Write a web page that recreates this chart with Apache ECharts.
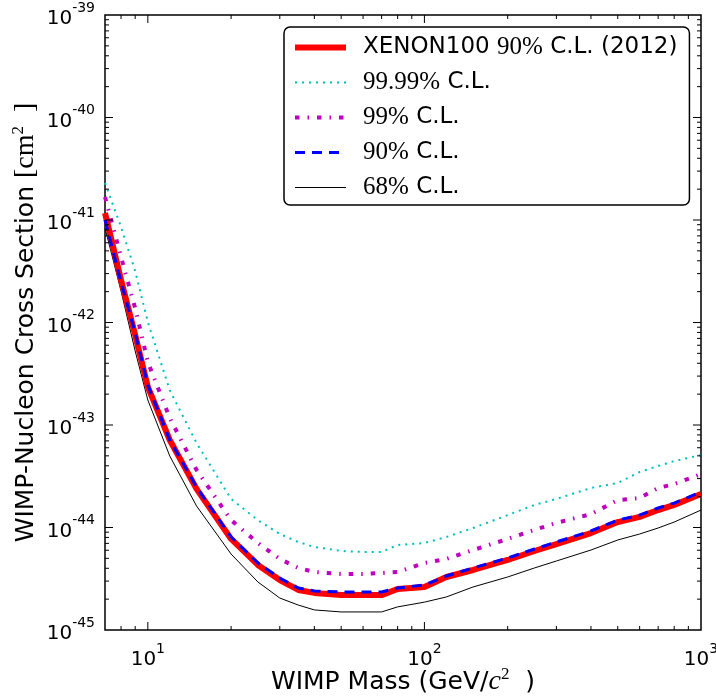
<!DOCTYPE html>
<html>
<head>
<meta charset="utf-8">
<script src="https://cdn.jsdelivr.net/npm/echarts@6/dist/echarts.min.js"></script>
<style>
  html, body { margin: 0; padding: 0; background: #fff; }
  #chart { width: 716px; height: 698px; }
</style>
</head>
<body>
<div id="chart"></div>
<script>
// WIMP mass grid (GeV/c^2)
var masses = [7, 8, 9, 10, 12, 15, 20, 25, 30, 35, 40, 50, 60, 70, 80, 100, 120, 150, 200, 250, 300, 400, 500, 600, 700, 800, 1000];

// cross sections (cm^2)
var xenon2012 = [1.17e-41, 2.60e-42, 7.55e-43, 2.35e-43, 7.14e-44, 2.38e-44, 7.73e-45, 4.31e-45, 3.07e-45, 2.46e-45, 2.30e-45, 2.19e-45, 2.19e-45, 2.19e-45, 2.51e-45, 2.63e-45, 3.29e-45, 3.85e-45, 4.82e-45, 5.90e-45, 6.90e-45, 8.83e-45, 1.13e-44, 1.27e-44, 1.48e-44, 1.66e-44, 2.12e-44];
var cl9999 = [2.30e-41, 8.55e-42, 3.18e-42, 1.01e-42, 2.19e-43, 6.67e-44, 1.90e-44, 1.18e-44, 8.64e-45, 7.22e-45, 6.46e-45, 5.90e-45, 5.77e-45, 5.77e-45, 6.75e-45, 7.06e-45, 8.07e-45, 9.89e-45, 1.32e-44, 1.66e-44, 1.90e-44, 2.43e-44, 2.72e-44, 3.48e-44, 3.98e-44, 4.45e-44, 5.09e-44];
var cl99 = [1.68e-41, 4.36e-42, 1.38e-42, 4.12e-43, 1.17e-43, 3.64e-44, 1.18e-44, 7.06e-45, 4.93e-45, 4.03e-45, 3.68e-45, 3.52e-45, 3.52e-45, 3.60e-45, 3.68e-45, 4.51e-45, 4.93e-45, 6.03e-45, 7.73e-45, 9.46e-45, 1.11e-44, 1.35e-44, 1.85e-44, 1.94e-44, 2.43e-44, 2.65e-44, 3.32e-44];
var cl90 = [1.00e-41, 2.48e-42, 7.91e-43, 2.45e-43, 7.14e-44, 2.48e-44, 8.07e-45, 4.51e-45, 3.21e-45, 2.57e-45, 2.40e-45, 2.35e-45, 2.35e-45, 2.35e-45, 2.57e-45, 2.75e-45, 3.36e-45, 4.03e-45, 5.04e-45, 6.17e-45, 7.22e-45, 9.25e-45, 1.18e-44, 1.32e-44, 1.55e-44, 1.73e-44, 2.22e-44];
var cl68 = [8.35e-42, 2.03e-42, 5.27e-43, 1.75e-43, 4.99e-44, 1.62e-44, 5.51e-45, 2.94e-45, 2.05e-45, 1.75e-45, 1.57e-45, 1.50e-45, 1.50e-45, 1.50e-45, 1.68e-45, 1.87e-45, 2.10e-45, 2.63e-45, 3.29e-45, 4.03e-45, 4.71e-45, 6.03e-45, 7.55e-45, 8.64e-45, 9.89e-45, 1.13e-44, 1.48e-44];

var seriesNames = ['XENON100 90% C.L. (2012)', '99.99% C.L.', '99% C.L.', '90% C.L.', '68% C.L.'];
var legendRich = {
  'XENON100 90% C.L. (2012)': 'XENON100 {m|90%} C.L. (2012)',
  '99.99% C.L.': '{m|99.99%} C.L.',
  '99% C.L.': '{m|99%} C.L.',
  '90% C.L.': '{m|90%} C.L.',
  '68% C.L.': '{m|68%} C.L.'
};

// ECharts rounds to 20 decimals, so the y axis runs in units of 1e-45 cm^2
var yUnitExp = -45;
var yUnit = Math.pow(10, yUnitExp);

// axis ranges and ticks
var xMin = 7, xMax = 1000;
var yMin = 1e-45, yMax = 1e-39;
var xMajorTicks = [10, 100];
var xMinorTicks = [8, 9, 20, 30, 40, 50, 60, 70, 80, 90, 200, 300, 400, 500, 600, 700, 800, 900];
var yMajorTicks = [1e-44, 1e-43, 1e-42, 1e-41, 1e-40];
var yMinorTicks = [];
for (var d = -45; d < -39; d++) {
  for (var k = 2; k <= 9; k++) yMinorTicks.push(k * Math.pow(10, d));
}

function toUnit(v) {
  return v / yUnit;
}

function pairs(ys) {
  return masses.map(function (m, i) { return [m, toUnit(ys[i])]; });
}

function isDecade(v) {
  var l = Math.log10(v);
  return Math.abs(l - Math.round(l)) < 1e-6;
}

var tickRich = {
  b: { fontSize: 20, fontFamily: 'DejaVu Sans', color: '#000', lineHeight: 28, verticalAlign: 'bottom' },
  s: { fontSize: 14, fontFamily: 'DejaVu Sans', color: '#000', lineHeight: 14, verticalAlign: 'top' }
};

var titleRich = {
  m: { fontSize: 28, fontFamily: 'Liberation Serif', color: '#000', lineHeight: 32 },
  i: { fontSize: 28, fontFamily: 'Liberation Serif', fontStyle: 'italic', color: '#000', lineHeight: 32 },
  s: { fontSize: 17, fontFamily: 'Liberation Serif', color: '#000', lineHeight: 17, verticalAlign: 'top' }
};

var container = echarts.init(document.getElementById('chart'));

var xTickData = xMajorTicks.map(function (v) { return [v, 1000, 8]; })
  .concat(xMinorTicks.map(function (v) { return [v, 1000, 4]; }));
var yTickData = yMajorTicks.map(function (v) { return [10, toUnit(v), 8]; })
  .concat(yMinorTicks.map(function (v) { return [10, toUnit(v), 4]; }));

var option = {
  animation: false,
  backgroundColor: '#fff',
  grid: {
    left: 105, right: 15, top: 15, bottom: 68,
    outerBoundsMode: 'none',
    show: true, borderColor: '#000', borderWidth: 1.5, backgroundColor: 'transparent'
  },
  legend: {
    data: seriesNames,
    orient: 'vertical',
    left: 284, top: 27,
    padding: [8, 12, 5, 8],
    itemWidth: 51, itemHeight: 14, itemGap: 10,
    backgroundColor: '#fff',
    borderColor: '#000', borderWidth: 1.5, borderRadius: 6,
    itemStyle: { opacity: 0 },
    lineStyle: { width: 'inherit' },
    textStyle: {
      fontSize: 23, fontFamily: 'DejaVu Sans', color: '#000', lineHeight: 24,
      padding: [0, 0, 0, 12],
      rich: { m: { fontSize: 25, fontFamily: 'Liberation Serif', color: '#000', lineHeight: 24 } }
    },
    formatter: function (name) { return legendRich[name]; }
  },
  xAxis: {
    type: 'log', logBase: 10, min: xMin, max: xMax,
    axisLine: { show: false },
    axisTick: { show: false },
    splitLine: { show: false },
    minorTick: { show: false },
    axisLabel: {
      margin: 12,
      formatter: function (v) {
        if (!isDecade(v)) return '';
        return '{b|10}{s|' + Math.round(Math.log10(v)) + '}';
      },
      rich: tickRich
    },
    name: 'WIMP Mass (GeV/{i|c}{s|2}  )',
    nameLocation: 'middle',
    nameGap: 36,
    nameMoveOverlap: false,
    nameTextStyle: {
      fontSize: 25, fontFamily: 'DejaVu Sans', color: '#000', lineHeight: 32,
      rich: titleRich
    }
  },
  yAxis: {
    type: 'log', logBase: 10, min: toUnit(yMin), max: toUnit(yMax),
    axisLine: { show: false },
    axisTick: { show: false },
    splitLine: { show: false },
    minorTick: { show: false },
    axisLabel: {
      margin: 10,
      formatter: function (v) {
        if (!isDecade(v)) return '';
        return '{b|10}{s|' + (Math.round(Math.log10(v)) + yUnitExp) + '}';
      },
      rich: tickRich
    },
    name: 'WIMP-Nucleon Cross Section {m|[cm}{s|2}{m|  ]}',
    nameLocation: 'middle',
    nameRotate: 90,
    nameGap: 63,
    nameMoveOverlap: false,
    nameTextStyle: {
      fontSize: 25, fontFamily: 'DejaVu Sans', color: '#000', lineHeight: 32,
      rich: titleRich
    }
  },
  series: [
    {
      name: seriesNames[0], type: 'line', data: pairs(xenon2012), symbol: 'none',
      lineStyle: { color: '#ff0000', width: 6 }, itemStyle: { color: '#ff0000' }, z: 3
    },
    {
      name: seriesNames[1], type: 'line', data: pairs(cl9999), symbol: 'none',
      lineStyle: { color: '#00bfbf', width: 2, type: [2, 5] }, itemStyle: { color: '#00bfbf' }, z: 2
    },
    {
      name: seriesNames[2], type: 'line', data: pairs(cl99), symbol: 'none',
      lineStyle: { color: '#bf00bf', width: 4, type: [4.5, 8, 1.5, 8] }, itemStyle: { color: '#bf00bf' }, z: 2
    },
    {
      name: seriesNames[3], type: 'line', data: pairs(cl90), symbol: 'none',
      lineStyle: { color: '#0000ff', width: 3, type: [10, 7] }, itemStyle: { color: '#0000ff' }, z: 4
    },
    {
      name: seriesNames[4], type: 'line', data: pairs(cl68), symbol: 'none',
      lineStyle: { color: '#000000', width: 1 }, itemStyle: { color: '#000000' }, z: 2
    },
    {
      // inward ticks on bottom and top
      type: 'custom', silent: true, z: 5,
      data: xTickData,
      renderItem: function (params, api) {
        var v = api.value(0), len = api.value(2);
        var b = api.coord([v, toUnit(yMin)]);
        var t = api.coord([v, toUnit(yMax)]);
        return {
          type: 'group',
          children: [
            { type: 'line', shape: { x1: b[0], y1: b[1], x2: b[0], y2: b[1] - len }, style: { stroke: '#000', lineWidth: 1 } },
            { type: 'line', shape: { x1: t[0], y1: t[1], x2: t[0], y2: t[1] + len }, style: { stroke: '#000', lineWidth: 1 } }
          ]
        };
      }
    },
    {
      // inward ticks on left and right
      type: 'custom', silent: true, z: 5,
      data: yTickData,
      renderItem: function (params, api) {
        var v = api.value(1), len = api.value(2);
        var l = api.coord([xMin, v]);
        var r = api.coord([xMax, v]);
        return {
          type: 'group',
          children: [
            { type: 'line', shape: { x1: l[0], y1: l[1], x2: l[0] + len, y2: l[1] }, style: { stroke: '#000', lineWidth: 1 } },
            { type: 'line', shape: { x1: r[0], y1: r[1], x2: r[0] - len, y2: r[1] }, style: { stroke: '#000', lineWidth: 1 } }
          ]
        };
      }
    }
  ]
};
container.setOption(option, true);
</script>
</body>
</html>
